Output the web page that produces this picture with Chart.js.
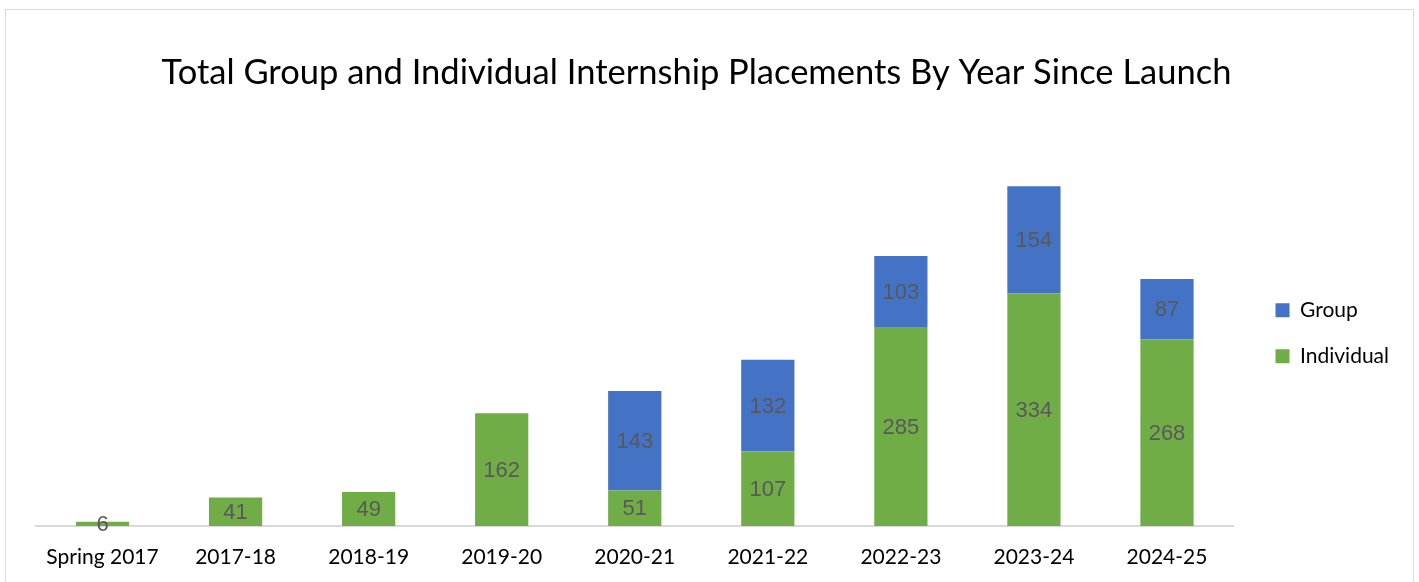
<!DOCTYPE html>
<html>
<head>
<meta charset="utf-8">
<title>Internship Placements</title>
<script src="https://cdn.jsdelivr.net/npm/chart.js@4.4.1/dist/chart.umd.min.js"></script>
<style>
html,body{margin:0;padding:0;background:#fff;overflow:hidden;}
#frame{position:absolute;left:5px;top:9px;width:1407px;height:600px;border:1.5px solid #d9d9d9;}
#wrap{position:absolute;left:-6px;top:0;width:1425px;height:582px;}
</style>
</head>
<body>
<div id="frame"></div>
<div id="wrap"><canvas id="placementsChart"></canvas></div>
<script>

const years=["Spring 2017","2017-18","2018-19","2019-20","2020-21","2021-22","2022-23","2023-24","2024-25"];

const individual=[6,41,49,162,51,107,285,334,268];

const group=[0,0,0,0,143,132,103,154,87];

// value labels in the middle of each bar piece
const barLabels={
id:"barLabels",
afterDatasetsDraw(chart){
const c=chart.ctx;
c.save();
c.font='22px "Liberation Sans"';
c.fillStyle="#595959";
c.textAlign="center";
c.textBaseline="middle";
chart.data.datasets.forEach((ds,i)=>{
chart.getDatasetMeta(i).data.forEach((bar,j)=>{
if(!ds.data[j]) return;
c.fillText(ds.data[j],bar.x,(bar.y+bar.base)/2+1);
});
});
c.restore();
}
};

new Chart(document.getElementById("placementsChart"),{

type:"bar",

data:{
labels:years,
datasets:[
{label:"Individual",data:individual,backgroundColor:"#70ad47",barPercentage:0.4,categoryPercentage:1},
{label:"Group",data:group,backgroundColor:"#4472c4",barPercentage:0.4,categoryPercentage:1}
]
},

options:{

responsive:true,
maintainAspectRatio:false,
animation:false,

layout:{padding:{top:10,bottom:0,left:0,right:20}},

plugins:{

title:{
display:true,
text:"Total Group and Individual Internship Placements By Year Since Launch",
color:"#000",
font:{family:"Lato",size:34.5,weight:"normal"},
padding:{top:42,bottom:15}
},

legend:{
position:"right",
fullSize:false,
reverse:true,
labels:{boxWidth:14,boxHeight:14,padding:25,color:"#000",font:{family:"Lato",size:21}},
title:{display:true,text:" ",font:{size:10},padding:{top:20,bottom:0}}
},

tooltip:{enabled:false}

},

scales:{

x:{
stacked:true,
grid:{display:false,drawTicks:false},
border:{color:"#d9d9d9",width:2},
ticks:{color:"#000",font:{family:"Lato",size:21},padding:19,maxRotation:0,autoSkip:false},
afterFit(s){s.height=56;}
},

y:{
stacked:true,
min:0,
max:600,
position:"left",
grid:{display:false},
border:{display:false},
ticks:{display:false},
afterFit(s){s.width=42;}
},

gap:{
type:"linear",
position:"right",
grid:{display:false},
border:{display:false},
ticks:{display:false},
afterFit(s){s.width=17;}
}

}

},

plugins:[barLabels]

});

</script>
</body>
</html>
